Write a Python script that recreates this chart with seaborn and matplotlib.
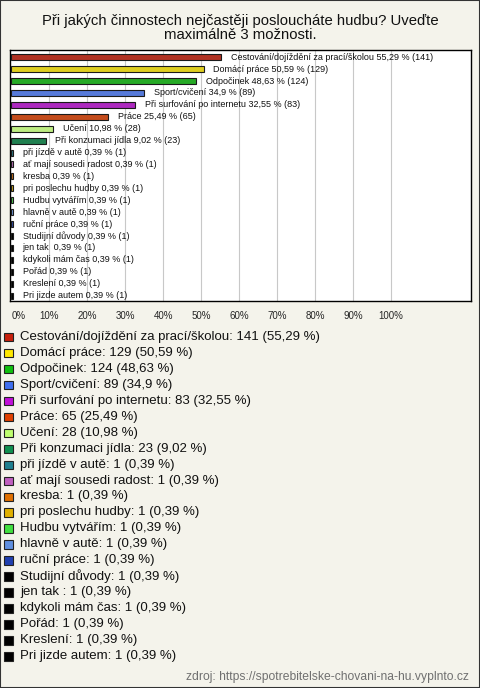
import pandas as pd
import matplotlib.pyplot as plt
import seaborn as sns
from matplotlib.patches import Rectangle

# answers, counts and shares
answers = ["Cestování/dojíždění za prací/školou", "Domácí práce", "Odpočinek",
           "Sport/cvičení", "Při surfování po internetu", "Práce", "Učení",
           "Při konzumaci jídla", "při jízdě v autě", "ať mají sousedi radost",
           "kresba", "pri poslechu hudby", "Hudbu vytvářím", "hlavně v autě",
           "ruční práce", "Studijní důvody", "jen tak ", "kdykoli mám čas",
           "Pořád", "Kreslení", "Pri jizde autem"]
counts = [141, 129, 124, 89, 83, 65, 28, 23, 1, 1, 1, 1, 1, 1, 1, 1, 1, 1, 1, 1, 1]
shares = [55.29, 50.59, 48.63, 34.9, 32.55, 25.49, 10.98, 9.02, 0.39, 0.39, 0.39,
          0.39, 0.39, 0.39, 0.39, 0.39, 0.39, 0.39, 0.39, 0.39, 0.39]
colors = ["#c8200c", "#ffe800", "#10c010", "#4070f0", "#c010d8", "#e04000",
          "#c0ff70", "#109050", "#208090", "#c060c0", "#e07000", "#e0b000",
          "#40e040", "#6090e0", "#2040b0", "#000000", "#000000", "#000000",
          "#000000", "#000000", "#000000"]
tick_labels = ["0%", "10%", "20%", "30%", "40%", "50%", "60%", "70%", "80%", "90%", "100%"]

df = pd.DataFrame({"answer": answers, "count": counts, "share": shares})

def cz(v):
    return f"{v:g}".replace(".", ",")

bg = "#f4f3eb"
sns.set_style("white")
plt.rcParams["font.family"] = ["Liberation Sans", "DejaVu Sans"]

W, H = 480, 688
fig = plt.figure(figsize=(W / 100, H / 100), dpi=100, facecolor=bg)
fig.patches.append(Rectangle((0, 0), 1, 1, transform=fig.transFigure, fill=False,
                             edgecolor="#333333", linewidth=1.5))

ax = fig.add_axes([10 / W, (H - 301) / H, 461 / W, 251 / H])
ax.set_facecolor("white")
sns.barplot(data=df, x="share", y="answer", hue="answer", palette=colors,
            legend=False, width=0.5, edgecolor="#1a1a1a", linewidth=0.8, ax=ax,
            zorder=3)

for i, row in df.iterrows():
    ax.text(row["share"] + 2.6, i, f"{row['answer']} {cz(row['share'])} % ({row['count']})",
            va="center", ha="left", fontsize=6.5, color="#111111", zorder=4)

ax.set_xlim(-0.35, 121)
ax.set_ylim(len(df) - 0.55, -0.6)
ax.set_xticks(range(0, 101, 10))
ax.set_xticklabels(tick_labels, fontsize=7)
ax.get_xticklabels()[0].set_horizontalalignment("left")
ax.set_yticks([])
ax.set_xlabel("")
ax.set_ylabel("")
for x in range(10, 101, 10):
    ax.axvline(x, color="#c8c8c8", linewidth=0.8, zorder=1)
ax.tick_params(axis="x", length=0, pad=7)
for s in ax.spines.values():
    s.set_color("black")
    s.set_linewidth(1)

fig.text(240 / W, 1 - 28 / H,
         "Při jakých činnostech nejčastěji posloucháte hudbu? Uveďte\nmaximálně 3 možnosti.",
         ha="center", va="center", fontsize=10.7, linespacing=1.0, color="#111111")

# legend below the chart
y0, step = 337, 15.95
for i, row in df.iterrows():
    y = y0 + i * step
    fig.patches.append(Rectangle((4 / W, 1 - (y + 4.5) / H), 8.5 / W, 8.5 / H,
                                 transform=fig.transFigure, facecolor=colors[i],
                                 edgecolor="#222222", linewidth=0.8))
    fig.text(20 / W, 1 - y / H, f"{row['answer']}: {row['count']} ({cz(row['share'])} %)",
             ha="left", va="center", fontsize=9.5, color="#111111")

fig.text(469 / W, 1 - 677 / H, "zdroj: https://spotrebitelske-chovani-na-hu.vyplnto.cz",
         ha="right", va="center", fontsize=8.7, color="#707070")

fig.savefig("out.png", dpi=100, facecolor=bg)
